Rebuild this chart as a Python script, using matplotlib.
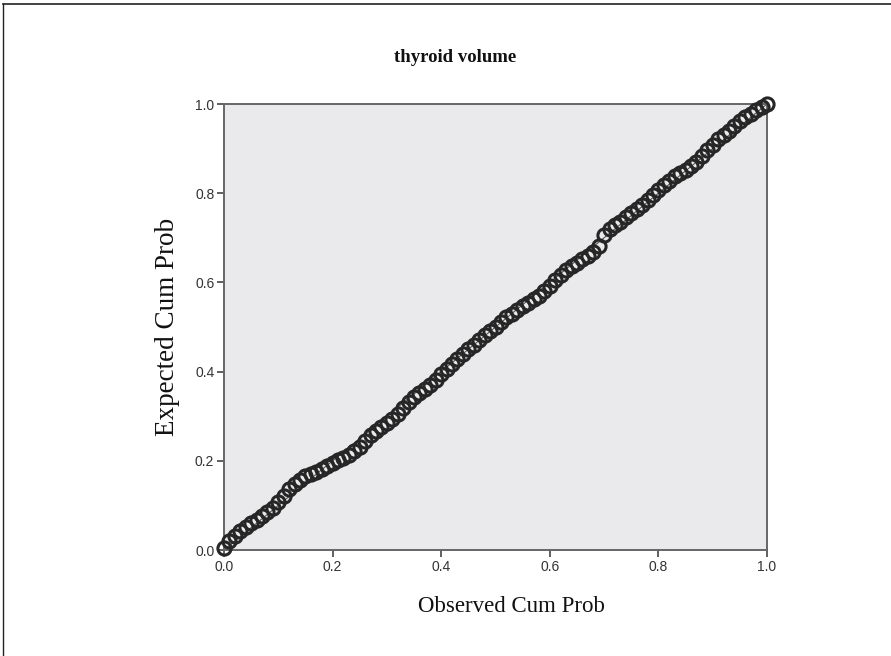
import matplotlib
matplotlib.use("Agg")
import matplotlib.pyplot as plt
from matplotlib.lines import Line2D

title = "thyroid volume"
x_label = "Observed Cum Prob"
y_label = "Expected Cum Prob"
ticks = [0.0, 0.2, 0.4, 0.6, 0.8, 1.0]
tick_labels = ["0.0", "0.2", "0.4", "0.6", "0.8", "1.0"]

observed = [0.00, 0.01, 0.02, 0.03, 0.04, 0.05, 0.06, 0.07, 0.08, 0.09,
            0.10, 0.11, 0.12, 0.13, 0.14, 0.15, 0.16, 0.17, 0.18, 0.19,
            0.20, 0.21, 0.22, 0.23, 0.24, 0.25, 0.26, 0.27, 0.28, 0.29,
            0.30, 0.31, 0.32, 0.33, 0.34, 0.35, 0.36, 0.37, 0.38, 0.39,
            0.40, 0.41, 0.42, 0.43, 0.44, 0.45, 0.46, 0.47, 0.48, 0.49,
            0.50, 0.51, 0.52, 0.53, 0.54, 0.55, 0.56, 0.57, 0.58, 0.59,
            0.60, 0.61, 0.62, 0.63, 0.64, 0.65, 0.66, 0.67, 0.68, 0.69,
            0.70, 0.71, 0.72, 0.73, 0.74, 0.75, 0.76, 0.77, 0.78, 0.79,
            0.80, 0.81, 0.82, 0.83, 0.84, 0.85, 0.86, 0.87, 0.88, 0.89,
            0.90, 0.91, 0.92, 0.93, 0.94, 0.95, 0.96, 0.97, 0.98, 0.99, 1.00]

expected = [0.005, 0.020, 0.032, 0.042, 0.051, 0.060, 0.068, 0.076, 0.086, 0.095,
            0.108, 0.122, 0.137, 0.149, 0.158, 0.165, 0.171, 0.176, 0.182, 0.188,
            0.195, 0.201, 0.207, 0.213, 0.221, 0.232, 0.245, 0.258, 0.267, 0.275,
            0.284, 0.294, 0.306, 0.318, 0.332, 0.344, 0.353, 0.362, 0.371, 0.382,
            0.394, 0.405, 0.416, 0.428, 0.439, 0.450, 0.460, 0.471, 0.482, 0.491,
            0.500, 0.511, 0.522, 0.530, 0.538, 0.546, 0.554, 0.562, 0.570, 0.580,
            0.592, 0.605, 0.616, 0.627, 0.636, 0.644, 0.652, 0.660, 0.668, 0.682,
            0.706, 0.720, 0.728, 0.736, 0.746, 0.755, 0.764, 0.773, 0.784, 0.796,
            0.807, 0.818, 0.828, 0.839, 0.846, 0.852, 0.860, 0.871, 0.883, 0.896,
            0.909, 0.921, 0.931, 0.940, 0.951, 0.962, 0.971, 0.978, 0.986, 0.994, 1.000]

fig = plt.figure(figsize=(8.91, 6.56), dpi=100)
fig.patch.set_facecolor("white")

# outer frame lines (top and left)
fig.add_artist(Line2D([3 / 891, 1.0], [1 - 4 / 656, 1 - 4 / 656], transform=fig.transFigure,
                      color="#222222", lw=1.2))
fig.add_artist(Line2D([3 / 891, 3 / 891], [0.0, 1 - 4 / 656], transform=fig.transFigure,
                      color="#222222", lw=1.0))

ax = fig.add_axes([224 / 891, 1 - 550 / 656, 543 / 891, 446 / 656])
ax.set_facecolor("#EAEAEC")
ax.plot([0, 1], [0, 1], color="#555555", lw=0.8, zorder=2)
ax.plot(observed, expected, linestyle="none", marker="o", markersize=9.5,
        markerfacecolor="none", markeredgecolor="#262626", markeredgewidth=2.2,
        zorder=3, clip_on=False)

ax.set_xlim(0, 1)
ax.set_ylim(0, 1)
ax.set_xticks(ticks)
ax.set_xticklabels(tick_labels)
ax.set_yticks(ticks)
ax.set_yticklabels(tick_labels)
for s in ax.spines.values():
    s.set_color("#666666")
    s.set_linewidth(1.4)
ax.tick_params(direction="out", length=5, width=1.2, color="#444444",
               labelsize=10, labelcolor="#333333", pad=2)
for lab in ax.get_xticklabels() + ax.get_yticklabels():
    lab.set_family("Liberation Sans")

fig.text(455 / 891, 1 - 58 / 656, title, ha="center", va="center",
         family="Liberation Serif", fontweight="bold", fontsize=13.5, color="#111111")
fig.text(511 / 891, 1 - 607 / 656, x_label, ha="center", va="center",
         family="Liberation Serif", fontsize=16.5, color="#111111")
fig.text(168 / 891, 1 - 327 / 656, y_label, ha="center", va="center", rotation=90,
         family="Liberation Serif", fontsize=19.5, color="#111111")

fig.savefig("out.png", dpi=100)
